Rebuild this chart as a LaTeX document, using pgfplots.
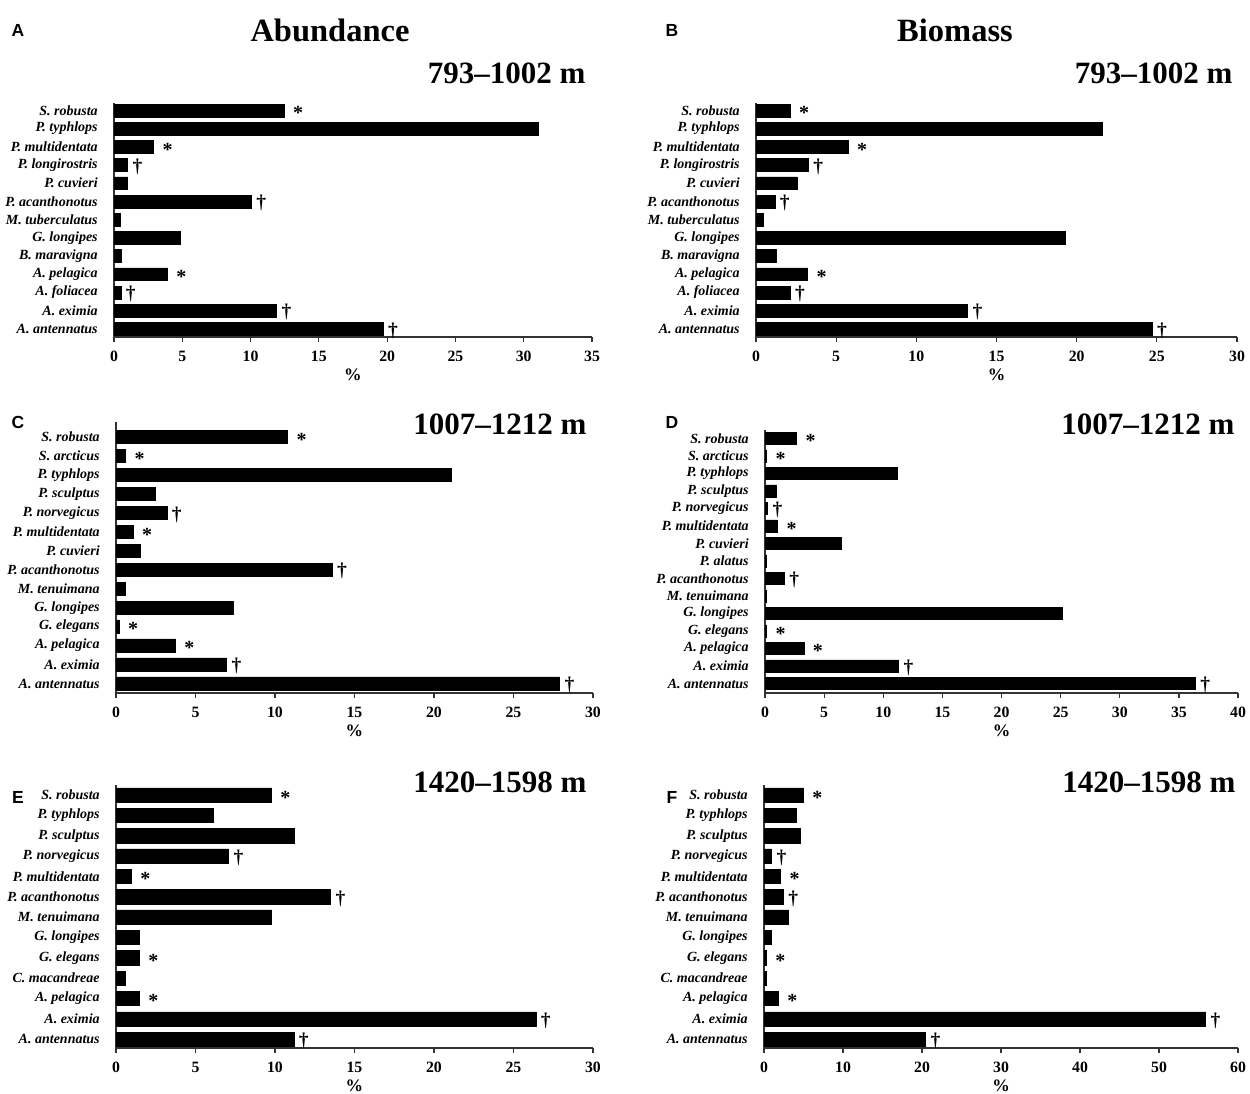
\documentclass[border=0pt]{standalone}
\usepackage{fontspec}
\setmainfont{Liberation Serif}
\newfontfamily\arial{Liberation Sans}
\usepackage{pgfplots}
\pgfplotsset{compat=1.18}
\newcommand\st{\hspace{1.6pt}\raisebox{-3.7pt}[1pt][1pt]{\bfseries\fontsize{8}{8}\selectfont *}}
\newcommand\dg{\raisebox{-2.9pt}[1pt][1pt]{\bfseries\fontsize{7.8}{8}\selectfont\dag}}
\pgfplotsset{
  panel/.style={
    xbar, scale only axis, anchor=south west, clip=false,
    axis lines*=left,
    axis line style={black!80, line width=0.6pt},
    bar width=0.7,
    xmin=0,
    tick align=outside,
    xtick pos=bottom, ytick pos=left,
    xtick style={black!80, line width=0.5pt},
    major tick length=2pt,
    ytick style={draw=none},
    /pgf/number format/assume math mode=true,
    xticklabel style={font=\bfseries\fontsize{6.3}{7}\selectfont},
    yticklabel style={font=\bfseries\itshape\fontsize{5.6}{6}\selectfont, xshift=-1pt},
    xlabel={\%},
    xlabel style={font=\bfseries\fontsize{7}{8}\selectfont, yshift=4pt},
    point meta=explicit symbolic,
    nodes near coords,
    nodes near coords align={horizontal},
    every node near coord/.append style={anchor=west, inner sep=0pt, outer sep=0pt, xshift=2pt},
  },
  bars/.style={fill=black, draw=black, line width=0.2pt},
}
\begin{document}
\begin{tikzpicture}
\path[use as bounding box] (0,0) rectangle (500pt,437.2pt);
% titles
\node[font=\bfseries\fontsize{13}{14}\selectfont] at (132pt,425.2pt) {Abundance};
\node[font=\bfseries\fontsize{13}{14}\selectfont] at (382pt,425.2pt) {Biomass};
\node[font=\arial\bfseries\fontsize{7}{8}\selectfont] at (7.2pt,425.2pt) {A};
\node[font=\arial\bfseries\fontsize{7}{8}\selectfont] at (268.8pt,425.2pt) {B};
\node[font=\arial\bfseries\fontsize{7}{8}\selectfont] at (7.2pt,268.4pt) {C};
\node[font=\arial\bfseries\fontsize{7}{8}\selectfont] at (268.8pt,268.4pt) {D};
\node[font=\arial\bfseries\fontsize{7}{8}\selectfont] at (7.2pt,118.4pt) {E};
\node[font=\arial\bfseries\fontsize{7}{8}\selectfont] at (268.8pt,118.4pt) {F};
\node[anchor=east, inner sep=0pt, font=\bfseries\fontsize{12.4}{13}\selectfont] at (234.4pt,408pt) {793–1002 m};
\node[anchor=east, inner sep=0pt, font=\bfseries\fontsize{12.4}{13}\selectfont] at (493.2pt,408pt) {793–1002 m};
\node[anchor=east, inner sep=0pt, font=\bfseries\fontsize{12.4}{13}\selectfont] at (234.8pt,267.6pt) {1007–1212 m};
\node[anchor=east, inner sep=0pt, font=\bfseries\fontsize{12.4}{13}\selectfont] at (494pt,267.6pt) {1007–1212 m};
\node[anchor=east, inner sep=0pt, font=\bfseries\fontsize{12.4}{13}\selectfont] at (234.8pt,124.4pt) {1420–1598 m};
\node[anchor=east, inner sep=0pt, font=\bfseries\fontsize{12.4}{13}\selectfont] at (494.4pt,124.4pt) {1420–1598 m};

% Panel A
\begin{axis}[panel, at={(45.6pt,302.4pt)}, width=191.2pt, height=93.6pt,
  xmax=35, xtick={0,5,...,35}, ymin=-0.45, ymax=12.41, ytick={0,...,12},
  yticklabels={A. antennatus, A. eximia, A. foliacea, A. pelagica, B. maravigna, G. longipes, M. tuberculatus, P. acanthonotus, P. cuvieri, P. longirostris, P. multidentata, P. typhlops, S. robusta}]
\addplot[bars] coordinates {
(19.7,0) [\dg] (11.9,1) [\dg] (0.5,2) [\dg] (3.9,3) [\st] (0.5,4) [] (4.85,5) []
(0.45,6) [] (10.05,7) [\dg] (1.0,8) [] (1.0,9) [\dg] (2.9,10) [\st] (31.1,11) [] (12.45,12) [\st]};
\end{axis}

% Panel B
\begin{axis}[panel, at={(302.4pt,302.4pt)}, width=192.4pt, height=93.6pt,
  xmax=30, xtick={0,5,...,30}, ymin=-0.45, ymax=12.41, ytick={0,...,12},
  yticklabels={A. antennatus, A. eximia, A. foliacea, A. pelagica, B. maravigna, G. longipes, M. tuberculatus, P. acanthonotus, P. cuvieri, P. longirostris, P. multidentata, P. typhlops, S. robusta}]
\addplot[bars] coordinates {
(24.7,0) [\dg] (13.2,1) [\dg] (2.13,2) [\dg] (3.22,3) [\st] (1.24,4) [] (19.3,5) []
(0.45,6) [] (1.17,7) [\dg] (2.58,8) [] (3.27,9) [\dg] (5.75,10) [\st] (21.6,11) [] (2.13,12) [\st]};
\end{axis}

% Panel C
\begin{axis}[panel, at={(46.4pt,160pt)}, width=190.8pt, height=108.4pt,
  xmax=30, xtick={0,5,...,30}, ymin=-0.5, ymax=13.79, ytick={0,...,13},
  yticklabels={A. antennatus, A. eximia, A. pelagica, G. elegans, G. longipes, M. tenuimana, P. acanthonotus, P. cuvieri, P. multidentata, P. norvegicus, P. sculptus, P. typhlops, S. arcticus, S. robusta}]
\addplot[bars] coordinates {
(27.9,0) [\dg] (6.96,1) [\dg] (3.74,2) [\st] (0.2,3) [\st] (7.4,4) [] (0.6,5) []
(13.6,6) [\dg] (1.5,7) [] (1.07,8) [\st] (3.2,9) [\dg] (2.5,10) [] (21.1,11) [] (0.6,12) [\st] (10.8,13) [\st]};
\end{axis}

% Panel D
\begin{axis}[panel, at={(306pt,160pt)}, width=189.2pt, height=105.2pt,
  xmax=40, xtick={0,5,...,40}, ymin=-0.54, ymax=14.49, ytick={0,...,14},
  yticklabels={A. antennatus, A. eximia, A. pelagica, G. elegans, G. longipes, M. tenuimana, P. acanthonotus, P. alatus, P. cuvieri, P. multidentata, P. norvegicus, P. sculptus, P. typhlops, S. arcticus, S. robusta}]
\addplot[bars] coordinates {
(36.4,0) [\dg] (11.3,1) [\dg] (3.29,2) [\st] (0.13,3) [\st] (25.1,4) [] (0.1,5) []
(1.64,6) [\dg] (0.1,7) [] (6.47,8) [] (1.07,9) [\st] (0.23,10) [\dg] (0.97,11) [] (11.2,12) [] (0.13,13) [\st] (2.68,14) [\st]};
\end{axis}

% Panel E
\begin{axis}[panel, at={(46.4pt,18pt)}, width=190.8pt, height=105.2pt,
  xmax=30, xtick={0,5,...,30}, ymin=-0.43, ymax=12.49, ytick={0,...,12},
  yticklabels={A. antennatus, A. eximia, A. pelagica, C. macandreae, G. elegans, G. longipes, M. tenuimana, P. acanthonotus, P. multidentata, P. norvegicus, P. sculptus, P. typhlops, S. robusta}]
\addplot[bars] coordinates {
(11.18,0) [\dg] (26.4,1) [\dg] (1.47,2) [\st] (0.6,3) [] (1.47,4) [\st] (1.47,5) []
(9.78,6) [] (13.5,7) [\dg] (0.97,8) [\st] (7.09,9) [\dg] (11.18,10) [] (6.14,11) [] (9.78,12) [\st]};
\end{axis}

% Panel F
\begin{axis}[panel, at={(305.6pt,18pt)}, width=189.6pt, height=105.2pt,
  xmax=60, xtick={0,10,...,60}, ymin=-0.43, ymax=12.49, ytick={0,...,12},
  yticklabels={A. antennatus, A. eximia, A. pelagica, C. macandreae, G. elegans, G. longipes, M. tenuimana, P. acanthonotus, P. multidentata, P. norvegicus, P. sculptus, P. typhlops, S. robusta}]
\addplot[bars] coordinates {
(20.45,0) [\dg] (55.9,1) [\dg] (1.81,2) [\st] (0.3,3) [] (0.3,4) [\st] (0.95,5) []
(3.12,6) [] (2.46,7) [\dg] (2.11,8) [\st] (0.95,9) [\dg] (4.62,10) [] (4.12,11) [] (4.97,12) [\st]};
\end{axis}
\end{tikzpicture}
\end{document}
